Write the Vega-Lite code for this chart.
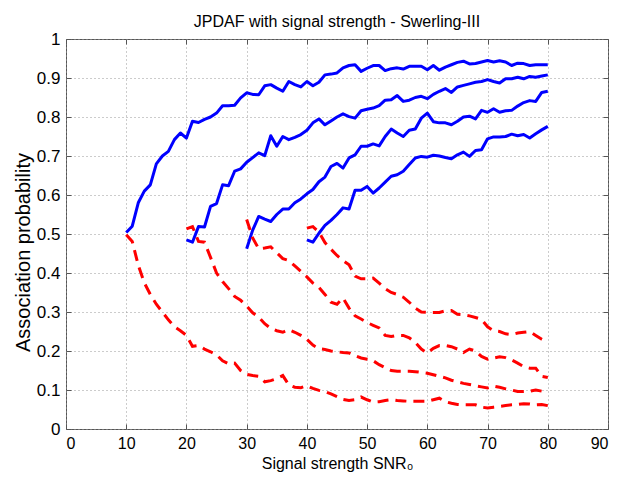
{
  "$schema": "https://vega.github.io/schema/vega-lite/v6.json",
  "width": 542,
  "height": 390,
  "autosize": "none",
  "padding": {"left": 66, "top": 39, "right": 24, "bottom": 49},
  "background": "white",
  "title": {"text": "JPDAF with signal strength - Swerling-III", "fontSize": 16, "fontWeight": "normal", "font": "Liberation Sans", "color": "#000", "baseline": "alphabetic", "offset": 12, "dy": 25},
  "config": {
    "font": "Liberation Sans",
    "view": {"stroke": "#555", "strokeWidth": 1},
    "axis": {"domain": false, "labelColor": "#000", "titleColor": "#000", "titleFontWeight": "normal", "tickColor": "#555", "gridColor": "#999", "gridDash": [1, 3], "gridWidth": 1, "gridOpacity": 1}
  },
  "datasets": {
    "assoc": [
      {"s":"b1","x":10,"y":0.504},{"s":"b1","x":11,"y":0.52},{"s":"b1","x":12,"y":0.58},{"s":"b1","x":13,"y":0.61},{"s":"b1","x":14,"y":0.626},{"s":"b1","x":15,"y":0.68},{"s":"b1","x":16,"y":0.70},{"s":"b1","x":17,"y":0.712},{"s":"b1","x":18,"y":0.742},{"s":"b1","x":19,"y":0.759},{"s":"b1","x":20,"y":0.746},{"s":"b1","x":21,"y":0.789},{"s":"b1","x":22,"y":0.786},{"s":"b1","x":23,"y":0.794},{"s":"b1","x":24,"y":0.80},{"s":"b1","x":25,"y":0.81},{"s":"b1","x":26,"y":0.829},{"s":"b1","x":27,"y":0.829},{"s":"b1","x":28,"y":0.83},{"s":"b1","x":29,"y":0.849},{"s":"b1","x":30,"y":0.862},{"s":"b1","x":31,"y":0.858},{"s":"b1","x":32,"y":0.857},{"s":"b1","x":33,"y":0.88},{"s":"b1","x":34,"y":0.883},{"s":"b1","x":35,"y":0.874},{"s":"b1","x":36,"y":0.866},{"s":"b1","x":37,"y":0.891},{"s":"b1","x":38,"y":0.883},{"s":"b1","x":39,"y":0.877},{"s":"b1","x":40,"y":0.891},{"s":"b1","x":41,"y":0.880},{"s":"b1","x":42,"y":0.889},{"s":"b1","x":43,"y":0.908},{"s":"b1","x":44,"y":0.910},{"s":"b1","x":45,"y":0.913},{"s":"b1","x":46,"y":0.926},{"s":"b1","x":47,"y":0.932},{"s":"b1","x":48,"y":0.934},{"s":"b1","x":49,"y":0.917},{"s":"b1","x":50,"y":0.925},{"s":"b1","x":51,"y":0.932},{"s":"b1","x":52,"y":0.932},{"s":"b1","x":53,"y":0.919},{"s":"b1","x":54,"y":0.924},{"s":"b1","x":55,"y":0.926},{"s":"b1","x":56,"y":0.923},{"s":"b1","x":57,"y":0.930},{"s":"b1","x":58,"y":0.930},{"s":"b1","x":59,"y":0.930},{"s":"b1","x":60,"y":0.921},{"s":"b1","x":61,"y":0.932},{"s":"b1","x":62,"y":0.920},{"s":"b1","x":63,"y":0.928},{"s":"b1","x":64,"y":0.934},{"s":"b1","x":65,"y":0.940},{"s":"b1","x":66,"y":0.943},{"s":"b1","x":67,"y":0.936},{"s":"b1","x":68,"y":0.937},{"s":"b1","x":69,"y":0.941},{"s":"b1","x":70,"y":0.945},{"s":"b1","x":71,"y":0.941},{"s":"b1","x":72,"y":0.944},{"s":"b1","x":73,"y":0.941},{"s":"b1","x":74,"y":0.932},{"s":"b1","x":75,"y":0.938},{"s":"b1","x":76,"y":0.937},{"s":"b1","x":77,"y":0.932},{"s":"b1","x":78,"y":0.934},{"s":"b1","x":79,"y":0.934},{"s":"b1","x":80,"y":0.934},
      {"s":"b2","x":20,"y":0.485},{"s":"b2","x":21,"y":0.479},{"s":"b2","x":22,"y":0.519},{"s":"b2","x":23,"y":0.518},{"s":"b2","x":24,"y":0.571},{"s":"b2","x":25,"y":0.578},{"s":"b2","x":26,"y":0.626},{"s":"b2","x":27,"y":0.624},{"s":"b2","x":28,"y":0.661},{"s":"b2","x":29,"y":0.667},{"s":"b2","x":30,"y":0.684},{"s":"b2","x":31,"y":0.696},{"s":"b2","x":32,"y":0.708},{"s":"b2","x":33,"y":0.701},{"s":"b2","x":34,"y":0.752},{"s":"b2","x":35,"y":0.725},{"s":"b2","x":36,"y":0.750},{"s":"b2","x":37,"y":0.742},{"s":"b2","x":38,"y":0.748},{"s":"b2","x":39,"y":0.755},{"s":"b2","x":40,"y":0.766},{"s":"b2","x":41,"y":0.785},{"s":"b2","x":42,"y":0.795},{"s":"b2","x":43,"y":0.780},{"s":"b2","x":44,"y":0.790},{"s":"b2","x":45,"y":0.800},{"s":"b2","x":46,"y":0.808},{"s":"b2","x":47,"y":0.801},{"s":"b2","x":48,"y":0.797},{"s":"b2","x":49,"y":0.816},{"s":"b2","x":50,"y":0.820},{"s":"b2","x":51,"y":0.823},{"s":"b2","x":52,"y":0.829},{"s":"b2","x":53,"y":0.843},{"s":"b2","x":54,"y":0.844},{"s":"b2","x":55,"y":0.855},{"s":"b2","x":56,"y":0.840},{"s":"b2","x":57,"y":0.843},{"s":"b2","x":58,"y":0.850},{"s":"b2","x":59,"y":0.853},{"s":"b2","x":60,"y":0.847},{"s":"b2","x":61,"y":0.858},{"s":"b2","x":62,"y":0.866},{"s":"b2","x":63,"y":0.873},{"s":"b2","x":64,"y":0.863},{"s":"b2","x":65,"y":0.877},{"s":"b2","x":66,"y":0.881},{"s":"b2","x":67,"y":0.885},{"s":"b2","x":68,"y":0.889},{"s":"b2","x":69,"y":0.891},{"s":"b2","x":70,"y":0.896},{"s":"b2","x":71,"y":0.891},{"s":"b2","x":72,"y":0.887},{"s":"b2","x":73,"y":0.898},{"s":"b2","x":74,"y":0.898},{"s":"b2","x":75,"y":0.902},{"s":"b2","x":76,"y":0.898},{"s":"b2","x":77,"y":0.904},{"s":"b2","x":78,"y":0.902},{"s":"b2","x":79,"y":0.905},{"s":"b2","x":80,"y":0.908},
      {"s":"b3","x":30,"y":0.462},{"s":"b3","x":31,"y":0.51},{"s":"b3","x":32,"y":0.545},{"s":"b3","x":33,"y":0.538},{"s":"b3","x":34,"y":0.532},{"s":"b3","x":35,"y":0.550},{"s":"b3","x":36,"y":0.564},{"s":"b3","x":37,"y":0.564},{"s":"b3","x":38,"y":0.58},{"s":"b3","x":39,"y":0.59},{"s":"b3","x":40,"y":0.603},{"s":"b3","x":41,"y":0.614},{"s":"b3","x":42,"y":0.634},{"s":"b3","x":43,"y":0.646},{"s":"b3","x":44,"y":0.673},{"s":"b3","x":45,"y":0.681},{"s":"b3","x":46,"y":0.669},{"s":"b3","x":47,"y":0.695},{"s":"b3","x":48,"y":0.703},{"s":"b3","x":49,"y":0.725},{"s":"b3","x":50,"y":0.725},{"s":"b3","x":51,"y":0.731},{"s":"b3","x":52,"y":0.726},{"s":"b3","x":53,"y":0.750},{"s":"b3","x":54,"y":0.769},{"s":"b3","x":55,"y":0.759},{"s":"b3","x":56,"y":0.750},{"s":"b3","x":57,"y":0.766},{"s":"b3","x":58,"y":0.769},{"s":"b3","x":59,"y":0.797},{"s":"b3","x":60,"y":0.810},{"s":"b3","x":61,"y":0.788},{"s":"b3","x":62,"y":0.785},{"s":"b3","x":63,"y":0.785},{"s":"b3","x":64,"y":0.780},{"s":"b3","x":65,"y":0.789},{"s":"b3","x":66,"y":0.800},{"s":"b3","x":67,"y":0.802},{"s":"b3","x":68,"y":0.795},{"s":"b3","x":69,"y":0.817},{"s":"b3","x":70,"y":0.812},{"s":"b3","x":71,"y":0.821},{"s":"b3","x":72,"y":0.812},{"s":"b3","x":73,"y":0.816},{"s":"b3","x":74,"y":0.817},{"s":"b3","x":75,"y":0.828},{"s":"b3","x":76,"y":0.837},{"s":"b3","x":77,"y":0.842},{"s":"b3","x":78,"y":0.840},{"s":"b3","x":79,"y":0.863},{"s":"b3","x":80,"y":0.866},
      {"s":"b4","x":40,"y":0.485},{"s":"b4","x":41,"y":0.479},{"s":"b4","x":42,"y":0.502},{"s":"b4","x":43,"y":0.522},{"s":"b4","x":44,"y":0.535},{"s":"b4","x":45,"y":0.550},{"s":"b4","x":46,"y":0.567},{"s":"b4","x":47,"y":0.564},{"s":"b4","x":48,"y":0.612},{"s":"b4","x":49,"y":0.612},{"s":"b4","x":50,"y":0.622},{"s":"b4","x":51,"y":0.605},{"s":"b4","x":52,"y":0.618},{"s":"b4","x":53,"y":0.633},{"s":"b4","x":54,"y":0.648},{"s":"b4","x":55,"y":0.652},{"s":"b4","x":56,"y":0.661},{"s":"b4","x":57,"y":0.678},{"s":"b4","x":58,"y":0.695},{"s":"b4","x":59,"y":0.699},{"s":"b4","x":60,"y":0.697},{"s":"b4","x":61,"y":0.702},{"s":"b4","x":62,"y":0.700},{"s":"b4","x":63,"y":0.696},{"s":"b4","x":64,"y":0.693},{"s":"b4","x":65,"y":0.703},{"s":"b4","x":66,"y":0.710},{"s":"b4","x":67,"y":0.699},{"s":"b4","x":68,"y":0.714},{"s":"b4","x":69,"y":0.716},{"s":"b4","x":70,"y":0.744},{"s":"b4","x":71,"y":0.749},{"s":"b4","x":72,"y":0.749},{"s":"b4","x":73,"y":0.750},{"s":"b4","x":74,"y":0.756},{"s":"b4","x":75,"y":0.752},{"s":"b4","x":76,"y":0.755},{"s":"b4","x":77,"y":0.746},{"s":"b4","x":78,"y":0.757},{"s":"b4","x":79,"y":0.767},{"s":"b4","x":80,"y":0.776}
    ],
    "clutter": [
      {"s":"r1","x":10,"y":0.498},{"s":"r1","x":11,"y":0.481},{"s":"r1","x":12,"y":0.420},{"s":"r1","x":13,"y":0.375},{"s":"r1","x":14,"y":0.345},{"s":"r1","x":15,"y":0.320},{"s":"r1","x":16,"y":0.300},{"s":"r1","x":17,"y":0.280},{"s":"r1","x":18,"y":0.262},{"s":"r1","x":19,"y":0.252},{"s":"r1","x":20,"y":0.240},{"s":"r1","x":21,"y":0.212},{"s":"r1","x":22,"y":0.214},{"s":"r1","x":23,"y":0.205},{"s":"r1","x":24,"y":0.198},{"s":"r1","x":25,"y":0.190},{"s":"r1","x":26,"y":0.175},{"s":"r1","x":27,"y":0.167},{"s":"r1","x":28,"y":0.169},{"s":"r1","x":29,"y":0.150},{"s":"r1","x":30,"y":0.140},{"s":"r1","x":31,"y":0.137},{"s":"r1","x":32,"y":0.135},{"s":"r1","x":33,"y":0.121},{"s":"r1","x":34,"y":0.124},{"s":"r1","x":35,"y":0.129},{"s":"r1","x":36,"y":0.137},{"s":"r1","x":37,"y":0.113},{"s":"r1","x":38,"y":0.107},{"s":"r1","x":39,"y":0.106},{"s":"r1","x":40,"y":0.111},{"s":"r1","x":41,"y":0.104},{"s":"r1","x":42,"y":0.099},{"s":"r1","x":43,"y":0.096},{"s":"r1","x":44,"y":0.090},{"s":"r1","x":45,"y":0.083},{"s":"r1","x":46,"y":0.076},{"s":"r1","x":47,"y":0.073},{"s":"r1","x":48,"y":0.075},{"s":"r1","x":49,"y":0.082},{"s":"r1","x":50,"y":0.075},{"s":"r1","x":51,"y":0.069},{"s":"r1","x":52,"y":0.070},{"s":"r1","x":53,"y":0.073},{"s":"r1","x":54,"y":0.075},{"s":"r1","x":55,"y":0.073},{"s":"r1","x":56,"y":0.072},{"s":"r1","x":57,"y":0.071},{"s":"r1","x":58,"y":0.071},{"s":"r1","x":59,"y":0.071},{"s":"r1","x":60,"y":0.071},{"s":"r1","x":61,"y":0.075},{"s":"r1","x":62,"y":0.079},{"s":"r1","x":63,"y":0.070},{"s":"r1","x":64,"y":0.066},{"s":"r1","x":65,"y":0.063},{"s":"r1","x":66,"y":0.062},{"s":"r1","x":67,"y":0.062},{"s":"r1","x":68,"y":0.062},{"s":"r1","x":69,"y":0.056},{"s":"r1","x":70,"y":0.054},{"s":"r1","x":71,"y":0.056},{"s":"r1","x":72,"y":0.058},{"s":"r1","x":73,"y":0.060},{"s":"r1","x":74,"y":0.062},{"s":"r1","x":75,"y":0.063},{"s":"r1","x":76,"y":0.065},{"s":"r1","x":77,"y":0.064},{"s":"r1","x":78,"y":0.062},{"s":"r1","x":79,"y":0.063},{"s":"r1","x":80,"y":0.060},
      {"s":"r2","x":20,"y":0.513},{"s":"r2","x":21,"y":0.519},{"s":"r2","x":22,"y":0.481},{"s":"r2","x":23,"y":0.479},{"s":"r2","x":24,"y":0.440},{"s":"r2","x":25,"y":0.400},{"s":"r2","x":26,"y":0.378},{"s":"r2","x":27,"y":0.360},{"s":"r2","x":28,"y":0.340},{"s":"r2","x":29,"y":0.330},{"s":"r2","x":30,"y":0.315},{"s":"r2","x":31,"y":0.298},{"s":"r2","x":32,"y":0.287},{"s":"r2","x":33,"y":0.270},{"s":"r2","x":34,"y":0.258},{"s":"r2","x":35,"y":0.252},{"s":"r2","x":36,"y":0.248},{"s":"r2","x":37,"y":0.255},{"s":"r2","x":38,"y":0.248},{"s":"r2","x":39,"y":0.240},{"s":"r2","x":40,"y":0.230},{"s":"r2","x":41,"y":0.215},{"s":"r2","x":42,"y":0.206},{"s":"r2","x":43,"y":0.204},{"s":"r2","x":44,"y":0.200},{"s":"r2","x":45,"y":0.198},{"s":"r2","x":46,"y":0.196},{"s":"r2","x":47,"y":0.195},{"s":"r2","x":48,"y":0.188},{"s":"r2","x":49,"y":0.182},{"s":"r2","x":50,"y":0.179},{"s":"r2","x":51,"y":0.175},{"s":"r2","x":52,"y":0.165},{"s":"r2","x":53,"y":0.157},{"s":"r2","x":54,"y":0.150},{"s":"r2","x":55,"y":0.148},{"s":"r2","x":56,"y":0.148},{"s":"r2","x":57,"y":0.148},{"s":"r2","x":58,"y":0.147},{"s":"r2","x":59,"y":0.145},{"s":"r2","x":60,"y":0.143},{"s":"r2","x":61,"y":0.139},{"s":"r2","x":62,"y":0.135},{"s":"r2","x":63,"y":0.131},{"s":"r2","x":64,"y":0.125},{"s":"r2","x":65,"y":0.121},{"s":"r2","x":66,"y":0.117},{"s":"r2","x":67,"y":0.114},{"s":"r2","x":68,"y":0.111},{"s":"r2","x":69,"y":0.108},{"s":"r2","x":70,"y":0.105},{"s":"r2","x":71,"y":0.110},{"s":"r2","x":72,"y":0.107},{"s":"r2","x":73,"y":0.103},{"s":"r2","x":74,"y":0.100},{"s":"r2","x":75,"y":0.096},{"s":"r2","x":76,"y":0.096},{"s":"r2","x":77,"y":0.097},{"s":"r2","x":78,"y":0.100},{"s":"r2","x":79,"y":0.097},{"s":"r2","x":80,"y":0.090},
      {"s":"r3","x":30,"y":0.537},{"s":"r3","x":31,"y":0.490},{"s":"r3","x":32,"y":0.462},{"s":"r3","x":33,"y":0.464},{"s":"r3","x":34,"y":0.467},{"s":"r3","x":35,"y":0.452},{"s":"r3","x":36,"y":0.437},{"s":"r3","x":37,"y":0.432},{"s":"r3","x":38,"y":0.418},{"s":"r3","x":39,"y":0.404},{"s":"r3","x":40,"y":0.390},{"s":"r3","x":41,"y":0.374},{"s":"r3","x":42,"y":0.363},{"s":"r3","x":43,"y":0.345},{"s":"r3","x":44,"y":0.325},{"s":"r3","x":45,"y":0.320},{"s":"r3","x":46,"y":0.336},{"s":"r3","x":47,"y":0.310},{"s":"r3","x":48,"y":0.290},{"s":"r3","x":49,"y":0.282},{"s":"r3","x":50,"y":0.273},{"s":"r3","x":51,"y":0.266},{"s":"r3","x":52,"y":0.259},{"s":"r3","x":53,"y":0.240},{"s":"r3","x":54,"y":0.237},{"s":"r3","x":55,"y":0.240},{"s":"r3","x":56,"y":0.240},{"s":"r3","x":57,"y":0.234},{"s":"r3","x":58,"y":0.222},{"s":"r3","x":59,"y":0.205},{"s":"r3","x":60,"y":0.195},{"s":"r3","x":61,"y":0.207},{"s":"r3","x":62,"y":0.214},{"s":"r3","x":63,"y":0.214},{"s":"r3","x":64,"y":0.211},{"s":"r3","x":65,"y":0.205},{"s":"r3","x":66,"y":0.196},{"s":"r3","x":67,"y":0.205},{"s":"r3","x":68,"y":0.200},{"s":"r3","x":69,"y":0.186},{"s":"r3","x":70,"y":0.179},{"s":"r3","x":71,"y":0.182},{"s":"r3","x":72,"y":0.185},{"s":"r3","x":73,"y":0.183},{"s":"r3","x":74,"y":0.177},{"s":"r3","x":75,"y":0.169},{"s":"r3","x":76,"y":0.160},{"s":"r3","x":77,"y":0.156},{"s":"r3","x":78,"y":0.156},{"s":"r3","x":79,"y":0.135},{"s":"r3","x":80,"y":0.132},
      {"s":"r4","x":40,"y":0.515},{"s":"r4","x":41,"y":0.519},{"s":"r4","x":42,"y":0.505},{"s":"r4","x":43,"y":0.478},{"s":"r4","x":44,"y":0.461},{"s":"r4","x":45,"y":0.445},{"s":"r4","x":46,"y":0.432},{"s":"r4","x":47,"y":0.421},{"s":"r4","x":48,"y":0.392},{"s":"r4","x":49,"y":0.385},{"s":"r4","x":50,"y":0.385},{"s":"r4","x":51,"y":0.387},{"s":"r4","x":52,"y":0.374},{"s":"r4","x":53,"y":0.360},{"s":"r4","x":54,"y":0.350},{"s":"r4","x":55,"y":0.345},{"s":"r4","x":56,"y":0.338},{"s":"r4","x":57,"y":0.325},{"s":"r4","x":58,"y":0.310},{"s":"r4","x":59,"y":0.300},{"s":"r4","x":60,"y":0.299},{"s":"r4","x":61,"y":0.299},{"s":"r4","x":62,"y":0.299},{"s":"r4","x":63,"y":0.303},{"s":"r4","x":64,"y":0.304},{"s":"r4","x":65,"y":0.294},{"s":"r4","x":66,"y":0.293},{"s":"r4","x":67,"y":0.290},{"s":"r4","x":68,"y":0.286},{"s":"r4","x":69,"y":0.281},{"s":"r4","x":70,"y":0.262},{"s":"r4","x":71,"y":0.252},{"s":"r4","x":72,"y":0.250},{"s":"r4","x":73,"y":0.244},{"s":"r4","x":74,"y":0.242},{"s":"r4","x":75,"y":0.246},{"s":"r4","x":76,"y":0.248},{"s":"r4","x":77,"y":0.250},{"s":"r4","x":78,"y":0.240},{"s":"r4","x":79,"y":0.230},{"s":"r4","x":80,"y":0.222}
    ]
  },
  "layer": [
    {
      "data": {"name": "assoc"},
      "mark": {"type": "line", "color": "#0000ff", "strokeWidth": 3, "strokeJoin": "round"},
      "encoding": {
        "x": {"field": "x", "type": "quantitative", "scale": {"domain": [0, 90], "nice": false},
          "axis": {"orient": "bottom", "values": [0,10,20,30,40,50,60,70,80,90], "grid": true, "tickSize": -5, "labelFontSize": 16, "labelPadding": 11, "title": "Signal strength SNR₀", "titleFontSize": 16, "titlePadding": 4}},
        "y": {"field": "y", "type": "quantitative", "scale": {"domain": [0, 1], "nice": false},
          "axis": {"orient": "left", "values": [0,0.1,0.2,0.3,0.4,0.5,0.6,0.7,0.8,0.9,1], "format": "~g", "grid": true, "tickSize": -5, "labelFontSize": 17, "labelPadding": 11, "title": "Association probability", "titleFontSize": 20, "titlePadding": 3, "titleY": 213}},
        "detail": {"field": "s"}
      }
    },
    {
      "data": {"name": "clutter"},
      "mark": {"type": "line", "color": "#ff0000", "strokeWidth": 3, "strokeDash": [11, 7]},
      "encoding": {
        "x": {"field": "x", "type": "quantitative", "scale": {"domain": [0, 90], "nice": false},
          "axis": {"orient": "top", "values": [0,10,20,30,40,50,60,70,80,90], "grid": false, "tickSize": -5, "labels": false, "title": null}},
        "y": {"field": "y", "type": "quantitative", "scale": {"domain": [0, 1], "nice": false},
          "axis": {"orient": "right", "values": [0,0.1,0.2,0.3,0.4,0.5,0.6,0.7,0.8,0.9,1], "grid": false, "tickSize": -5, "labels": false, "title": null}},
        "detail": {"field": "s"}
      }
    }
  ],
  "resolve": {"axis": {"x": "independent", "y": "independent"}}
}
